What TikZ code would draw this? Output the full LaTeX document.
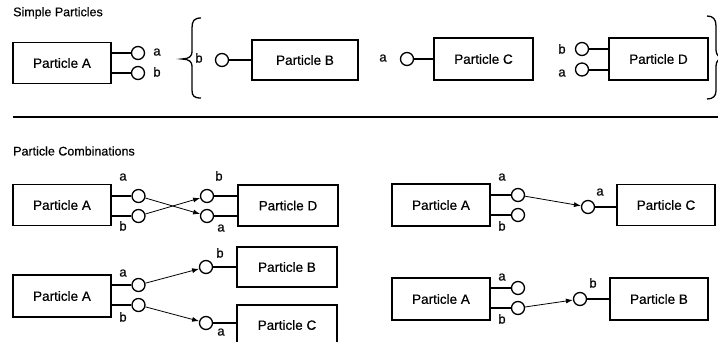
\documentclass[tikz,border=0pt]{standalone}
\usepackage{fontspec}
\setmainfont[FakeBold=0.5]{Liberation Sans}
\usetikzlibrary{arrows.meta}

\tikzset{
  part/.style={draw, line width=1.5pt, minimum width=98pt, minimum height=41pt,
    inner sep=0pt, font=\fontsize{13.5}{15}\selectfont},
  port/.style={draw, circle, line width=1.3pt, minimum size=13pt, inner sep=0pt},
  stub/.style={line width=2pt},
  link/.style={line width=0.8pt, -{Latex[length=7pt,width=5pt]}, shorten >=0pt},
  lbl/.style={inner sep=0pt, text height=7pt, text depth=0pt,
    font=\fontsize{13}{14}\selectfont},
  title/.style={inner sep=0pt, anchor=west, font=\fontsize{12.5}{14}\selectfont},
  bracket/.style={line width=1.3pt},
}

\begin{document}
\begin{tikzpicture}[x=1pt, y=-1pt]
\useasboundingbox (0,0) rectangle (718,341);
\clip (0,0) rectangle (718,341);

% ---------------- Simple particles ----------------
\node[title] (t1) at (13,13) {Simple Particles};

% Particle A with two ports
\node[part] (A1) at (62,63) {Particle A};
\node[port] (A1a) at (138,53) {};
\node[port] (A1b) at (138,73) {};
\draw[stub] (A1a.west -| A1.east) -- (A1a.west);
\draw[stub] (A1b.west -| A1.east) -- (A1b.west);
\node[lbl] (A1la) at (157,52) {a};
\node[lbl] (A1lb) at (157,73) {b};

% left brace
\draw[bracket] (201,18) .. controls (194,18) and (192,21) .. (192,28) -- (192,52)
  .. controls (192,56) and (189,59) .. (182,59)
  .. controls (189,59) and (192,62) .. (192,66) -- (192,90)
  .. controls (192,96) and (194,98) .. (201,98);

% Particle B
\node[part, minimum width=106pt, minimum height=40pt] (B1) at (305,60) {Particle B};
\node[port] (B1b) at (222,60) {};
\draw[stub] (B1b.east) -- (B1b.east -| B1.west);
\node[lbl] (B1lb) at (199,59) {b};

% Particle C
\node[part, minimum width=99pt, minimum height=42pt] (C1) at (483.5,59) {Particle C};
\node[port] (C1a) at (407,59) {};
\draw[stub] (C1a.east) -- (C1a.east -| C1.west);
\node[lbl] (C1la) at (383,58) {a};

% Particle D
\node[part, minimum width=99pt, minimum height=42pt] (D1) at (658.5,59) {Particle D};
\node[port] (D1b) at (582,49) {};
\node[port] (D1a) at (582,69.5) {};
\draw[stub] (D1b.east) -- (D1b.east -| D1.west);
\draw[stub] (D1a.east) -- (D1a.east -| D1.west);
\node[lbl] (D1lb) at (562,50) {b};
\node[lbl] (D1la) at (562,73) {a};

% right brace
\draw[bracket] (707,16) .. controls (713,16) and (716,19) .. (716,26) -- (716,50)
  .. controls (716,55) and (719,58) .. (725,58)
  .. controls (719,58) and (716,61) .. (716,66) -- (716,91)
  .. controls (716,96) and (713,99) .. (707,99);

% separator
\coordinate (s1) at (13,117);
\coordinate (s2) at (718,117);
\draw[line width=1.6pt] (s1) -- (s2);

% ---------------- Particle combinations ----------------
\node[title] (t2) at (13,151) {Particle Combinations};

% A -- D (crossed)
\node[part, minimum height=41pt] (A2) at (62,205) {Particle A};
\node[port] (A2a) at (138.5,196) {};
\node[port] (A2b) at (138.5,216) {};
\draw[stub] (A2a.west -| A2.east) -- (A2a.west);
\draw[stub] (A2b.west -| A2.east) -- (A2b.west);
\node[lbl] (A2la) at (123,177) {a};
\node[lbl] (A2lb) at (123,227) {b};

\node[part, minimum width=100pt, minimum height=41pt] (D2) at (288,205.5) {Particle D};
\node[port] (D2b) at (207,196) {};
\node[port] (D2a) at (207,216) {};
\draw[stub] (D2b.east) -- (D2b.east -| D2.west);
\draw[stub] (D2a.east) -- (D2a.east -| D2.west);
\node[lbl] (D2lb) at (219,177) {b};
\node[lbl] (D2la) at (221,228) {a};

\draw[link] (A2a) -- (D2a);
\draw[link] (A2b) -- (D2b);

% A -- B, A -- C
\node[part, minimum height=42pt] (A3) at (62,296) {Particle A};
\node[port] (A3a) at (138.5,285) {};
\node[port] (A3b) at (138.5,305) {};
\draw[stub] (A3a.west -| A3.east) -- (A3a.west);
\draw[stub] (A3b.west -| A3.east) -- (A3b.west);
\node[lbl] (A3la) at (123,273) {a};
\node[lbl] (A3lb) at (123,318) {b};

\node[part, minimum width=100pt, minimum height=40pt] (B3) at (287,267) {Particle B};
\node[port] (B3b) at (206,267) {};
\draw[stub] (B3b.east) -- (B3b.east -| B3.west);
\node[lbl] (B3lb) at (220,254) {b};

\node[part, minimum width=100pt, minimum height=40pt] (C3) at (287,325) {Particle C};
\node[port] (C3a) at (206,323) {};
\draw[stub] (C3a.east) -- (C3a.east -| C3.west);
\node[lbl] (C3la) at (221,332) {a};

\draw[link] (A3a) -- (B3b);
\draw[link] (A3b) -- (C3a);

% A -- C (right)
\node[part, minimum height=42pt] (A4) at (441,205) {Particle A};
\node[port] (A4a) at (518,195) {};
\node[port] (A4b) at (518,215) {};
\draw[stub] (A4a.west -| A4.east) -- (A4a.west);
\draw[stub] (A4b.west -| A4.east) -- (A4b.west);
\node[lbl] (A4la) at (502,177) {a};
\node[lbl] (A4lb) at (502,227) {b};

\node[part, minimum height=41pt] (C4) at (666,205) {Particle C};
\node[port] (C4a) at (588,207) {};
\draw[stub] (C4a.east) -- (C4a.east -| C4.west);
\node[lbl] (C4la) at (600,192) {a};

\draw[link] (A4a) -- (C4a);

% A -- B (right)
\node[part, minimum height=42pt] (A5) at (441,299) {Particle A};
\node[port] (A5a) at (518,288) {};
\node[port] (A5b) at (518,308) {};
\draw[stub] (A5a.west -| A5.east) -- (A5a.west);
\draw[stub] (A5b.west -| A5.east) -- (A5b.west);
\node[lbl] (A5la) at (502,277) {a};
\node[lbl] (A5lb) at (502,320) {b};

\node[part, minimum height=42pt] (B5) at (659,299) {Particle B};
\node[port] (B5b) at (580,299) {};
\draw[stub] (B5b.east) -- (B5b.east -| B5.west);
\node[lbl] (B5lb) at (593,284) {b};

\draw[link] (A5b) -- (B5b);
\end{tikzpicture}
\end{document}
